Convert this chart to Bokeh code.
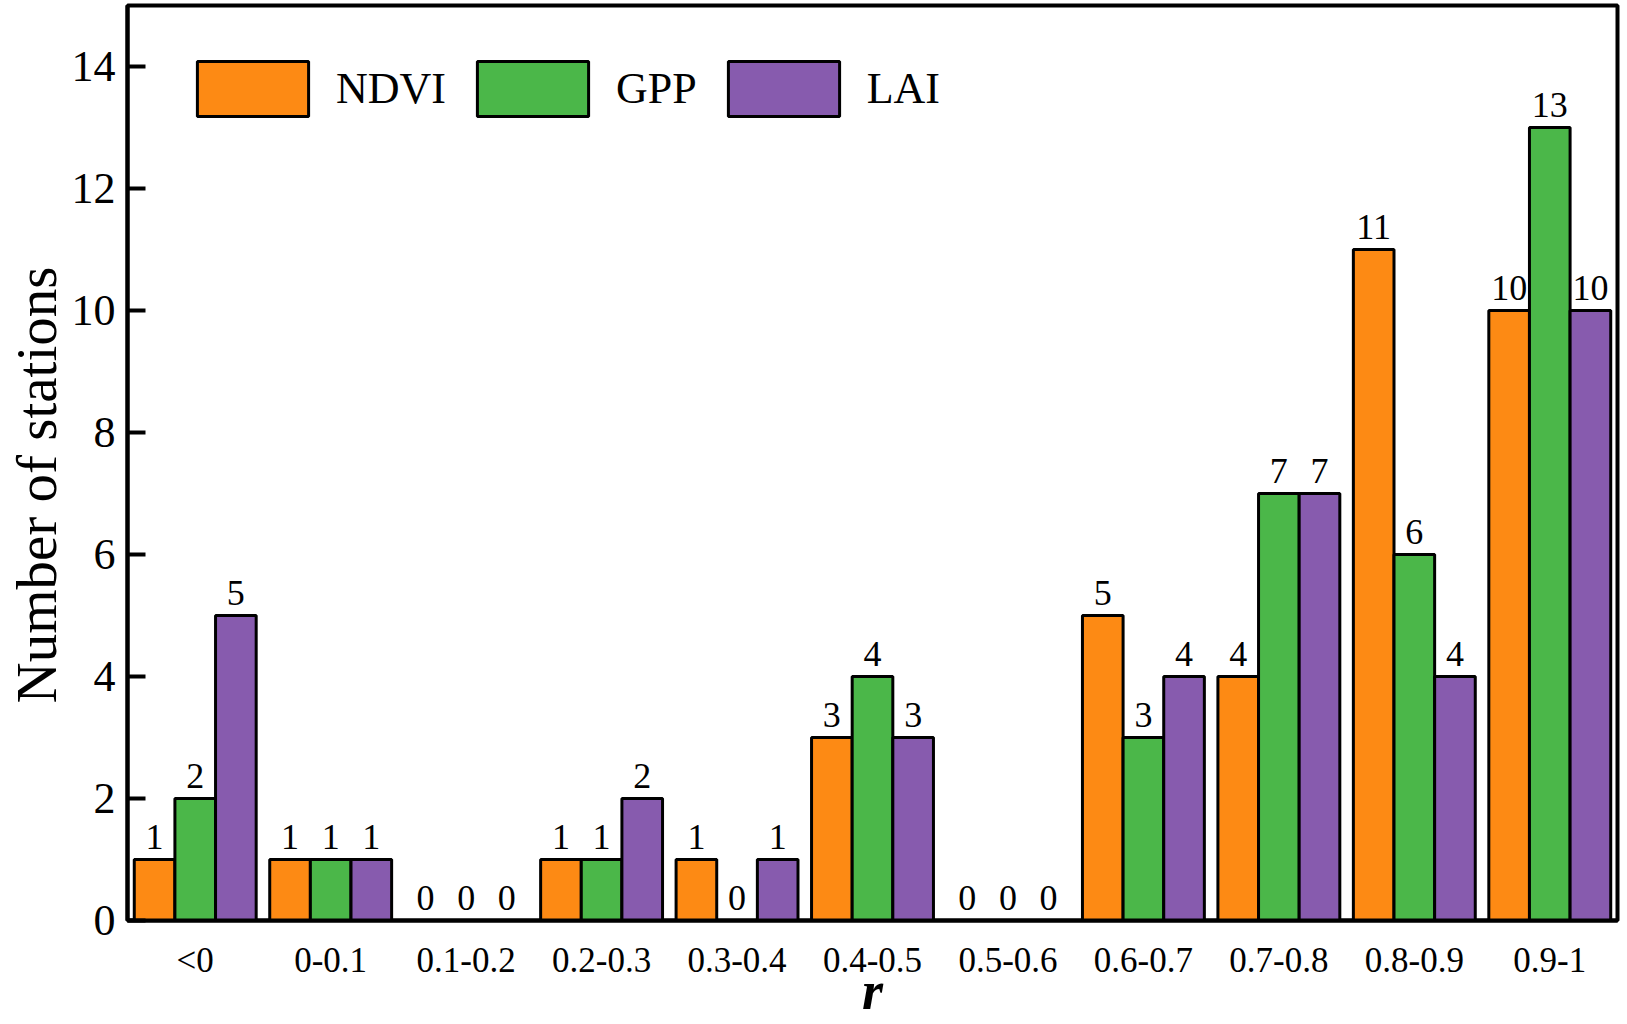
from bokeh.plotting import figure
from bokeh.models import (ColumnDataSource, FactorRange, Range1d, Legend, LegendItem,
                          FixedTicker, Title)
from bokeh.transform import dodge
from bokeh.core.properties import value
from bokeh.embed import file_html
from bokeh.resources import INLINE

categories = ["<0", "0-0.1", "0.1-0.2", "0.2-0.3", "0.3-0.4", "0.4-0.5",
              "0.5-0.6", "0.6-0.7", "0.7-0.8", "0.8-0.9", "0.9-1"]
ndvi = [1, 1, 0, 1, 1, 3, 0, 5, 4, 11, 10]
gpp = [2, 1, 0, 1, 0, 4, 0, 3, 7, 6, 13]
lai = [5, 1, 0, 2, 1, 3, 0, 4, 7, 4, 10]
series_names = ["NDVI", "GPP", "LAI"]
y_ticks = [0, 2, 4, 6, 8, 10, 12, 14]
x_title = "r"
y_title = "Number of stations"

colors = ["#FD8A14", "#4BB749", "#875BAE"]
offsets = [-0.3, 0.0, 0.3]
FONT = "Liberation Serif"

src = ColumnDataSource(dict(
    cat=categories, NDVI=ndvi, GPP=gpp, LAI=lai,
    NDVI_t=[str(v) for v in ndvi], GPP_t=[str(v) for v in gpp], LAI_t=[str(v) for v in lai],
))

p = figure(width=1627, height=1024, output_backend="svg", toolbar_location=None,
           x_range=FactorRange(*categories), y_range=Range1d(0, 15),
           min_border_left=127, min_border_right=10, min_border_top=5, min_border_bottom=104)

renderers = []
for name, col, off in zip(series_names, colors, offsets):
    r = p.vbar(x=dodge("cat", off, range=p.x_range), top=name, width=0.3, source=src,
               fill_color=col, line_color="black", line_width=3)
    renderers.append(r)
    p.text(x=dodge("cat", off, range=p.x_range), y=name, text=name + "_t", source=src,
           text_font=value(FONT), text_font_size="36px", text_align="center",
           text_baseline="alphabetic", y_offset=-23, text_color="black")

legend = Legend(items=[LegendItem(label=n, renderers=[r]) for n, r in zip(series_names, renderers)],
                orientation="horizontal", location=(56, 797),
                glyph_width=139, glyph_height=69, label_standoff=14, spacing=17,
                padding=0, margin=0, border_line_alpha=0, background_fill_alpha=0,
                label_text_font=FONT, label_text_font_size="44px", label_text_color="black")
p.add_layout(legend)

p.xgrid.visible = False
p.ygrid.visible = False
p.outline_line_color = "black"
p.outline_line_width = 4
p.outline_line_alpha = 1

p.yaxis.ticker = FixedTicker(ticks=y_ticks)
p.yaxis.major_tick_in = 18
p.yaxis.major_tick_out = 0
p.yaxis.minor_tick_line_color = None
p.yaxis.major_tick_line_width = 4
p.yaxis.major_tick_line_color = "black"
p.yaxis.axis_line_width = 4
p.yaxis.axis_line_color = "black"
p.yaxis.major_label_text_font = FONT
p.yaxis.major_label_text_font_size = "44px"
p.yaxis.major_label_text_color = "black"
p.yaxis.major_label_standoff = 12

p.xaxis.major_tick_in = 0
p.xaxis.major_tick_out = 0
p.xaxis.axis_line_width = 4
p.xaxis.axis_line_color = "black"
p.xaxis.major_label_text_font = FONT
p.xaxis.major_label_text_font_size = "35px"
p.xaxis.major_label_text_color = "black"
p.xaxis.major_label_standoff = 20
p.xaxis.axis_label = x_title
p.xaxis.axis_label_text_font = FONT
p.xaxis.axis_label_text_font_size = "54px"
p.xaxis.axis_label_text_font_style = "bold italic"
p.xaxis.axis_label_text_color = "black"
p.xaxis.axis_label_standoff = -22

# y title as a side-panel Title, anchored at its start and shifted along the axis
p.add_layout(Title(text=y_title, align="left", offset=217, standoff=2,
                   vertical_align="bottom",
                   text_font=FONT, text_font_size="57px", text_font_style="normal",
                   text_color="black"), "left")

open("out.html", "w").write(file_html(p, INLINE))
